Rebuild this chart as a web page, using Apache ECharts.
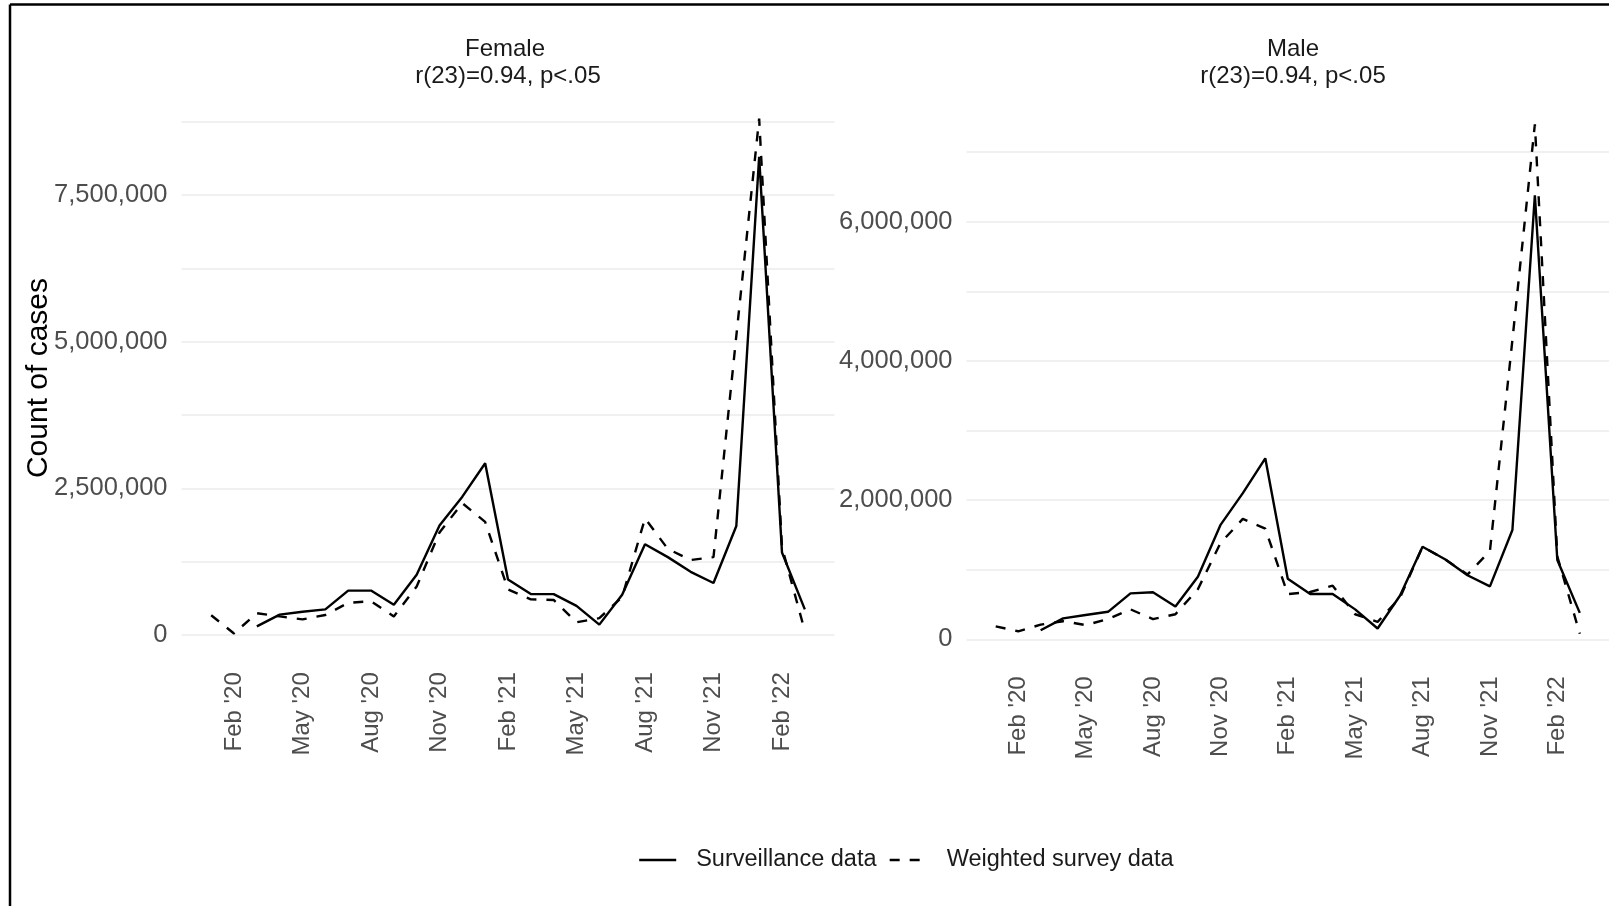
<!DOCTYPE html>
<html>
<head>
<meta charset="utf-8">
<script src="https://cdn.jsdelivr.net/npm/echarts@6/dist/echarts.min.js"></script>
<style>
html,body{margin:0;padding:0;background:#fff;}
#chart{width:1609px;height:906px;}
</style>
</head>
<body>
<div id="chart"></div>
<script>
// ---- data ----
const months = ["Jan '20","Feb '20","Mar '20","Apr '20","May '20","Jun '20","Jul '20","Aug '20","Sep '20","Oct '20","Nov '20","Dec '20",
  "Jan '21","Feb '21","Mar '21","Apr '21","May '21","Jun '21","Jul '21","Aug '21","Sep '21","Oct '21","Nov '21","Dec '21",
  "Jan '22","Feb '22","Mar '22"];
const tickMonths = ["Feb '20","May '20","Aug '20","Nov '20","Feb '21","May '21","Aug '21","Nov '21","Feb '22"];
const surveillanceStart = "Mar '20";
const surveyStart = "Jan '20";

const femaleSurveillance = [150000,350000,400000,440000,760000,760000,520000,1030000,1870000,2360000,2930000,
  950000,700000,700000,500000,180000,690000,1550000,1330000,1080000,890000,1860000,8150000,1410000,440000];
const femaleSurvey = [340000,30000,375000,320000,270000,345000,550000,580000,320000,830000,1750000,2250000,1930000,
  780000,610000,600000,220000,290000,650000,1990000,1470000,1280000,1330000,5100000,8800000,1500000,70000];

const maleSurveillance = [130000,300000,350000,395000,660000,675000,470000,900000,1640000,2100000,2600000,
  870000,650000,650000,430000,155000,630000,1330000,1150000,920000,760000,1570000,6380000,1140000,380000];
const maleSurvey = [185000,115000,210000,260000,205000,290000,430000,290000,360000,720000,1380000,1730000,1590000,
  650000,680000,770000,360000,250000,600000,1330000,1150000,930000,1270000,4300000,7400000,1190000,80000];

const femaleYTicks = [0,2500000,5000000,7500000];
const maleYTicks = [0,2000000,4000000,6000000];

// ---- build ----
const FONT = "'Liberation Sans', Arial, sans-serif";
function pairs(values, start){ const s = months.indexOf(start); return values.map((v,i)=>[s+i, v]); }
const tickIdx = tickMonths.map(m => months.indexOf(m));
const span = months.length - 1;
const xMin = -0.05*span, xMax = span + 0.05*span;

function xAxis(gi){
  return {
    type:'value', gridIndex:gi, min:xMin, max:xMax,
    axisLine:{show:false}, axisTick:{show:false}, splitLine:{show:false},
    axisLabel:{
      customValues: tickIdx, rotate:90, margin:37, fontSize:24, color:'#4D4D4D', fontFamily:FONT,
      formatter: v => months[Math.round(v)] || ''
    }
  };
}
function yAxis(gi, max, step, ticks){
  return {
    type:'value', gridIndex:gi, min:0, max:max, interval:step,
    axisLine:{show:false}, axisTick:{show:false},
    splitLine:{show:true, lineStyle:{color:'#EBEBEB', width:1.6}},
    axisLabel:{
      margin:14, fontSize:25.5, color:'#4D4D4D', fontFamily:FONT,
      formatter: v => ticks.indexOf(v) >= 0 ? v.toLocaleString('en-US') : ''
    }
  };
}
const solid = {color:'#000', width:2.4, type:'solid'};
const dashed = {color:'#000', width:2.4, type:[10,10]};
function line(name, data, gi, style){
  return {name, type:'line', xAxisIndex:gi, yAxisIndex:gi, data, symbol:'none', showSymbol:false,
    clip:false, lineStyle:style, itemStyle:{color:'#000'}, emphasis:{disabled:true}, silent:true};
}

const chart = echarts.init(document.getElementById('chart'), null, {renderer:'canvas'});
chart.setOption({
  animation:false,
  backgroundColor:'#fff',
  textStyle:{fontFamily:FONT},
  grid:[
    {left:181.5, top:121.6, width:653, height:513.6},
    {left:966.5, top:152.1, width:653, height:487.2}
  ],
  xAxis:[xAxis(0), xAxis(1)],
  yAxis:[yAxis(0, 8750000, 1250000, femaleYTicks), yAxis(1, 7000000, 1000000, maleYTicks)],
  legend:{
    data:['Surveillance data','Weighted survey data'],
    left:638, top:848, padding:0, itemWidth:37, itemHeight:14, itemGap:12, selectedMode:false,
    lineStyle:{width:2.4},
    itemStyle:{opacity:0},
    textStyle:{fontSize:23.5, color:'#1A1A1A', fontFamily:FONT, padding:[0,0,0,15]}
  },
  series:[
    line('Surveillance data', pairs(femaleSurveillance, surveillanceStart), 0, solid),
    line('Weighted survey data', pairs(femaleSurvey, surveyStart), 0, dashed),
    line('Surveillance data', pairs(maleSurveillance, surveillanceStart), 1, solid),
    line('Weighted survey data', pairs(maleSurvey, surveyStart), 1, dashed)
  ],
  graphic:[
    {type:'line', shape:{x1:10, y1:4.5, x2:1609, y2:4.5}, style:{stroke:'#000', lineWidth:2.5}},
    {type:'line', shape:{x1:10, y1:4.5, x2:10, y2:906}, style:{stroke:'#000', lineWidth:2.5}},
    {type:'text', x:505, y:49.5, style:{text:'Female', align:'center', verticalAlign:'middle', fontSize:24, fontFamily:FONT, fill:'#1A1A1A'}},
    {type:'text', x:508, y:76, style:{text:'r(23)=0.94, p<.05', align:'center', verticalAlign:'middle', fontSize:24, fontFamily:FONT, fill:'#1A1A1A'}},
    {type:'text', x:1293, y:49.5, style:{text:'Male', align:'center', verticalAlign:'middle', fontSize:24, fontFamily:FONT, fill:'#1A1A1A'}},
    {type:'text', x:1293, y:76, style:{text:'r(23)=0.94, p<.05', align:'center', verticalAlign:'middle', fontSize:24, fontFamily:FONT, fill:'#1A1A1A'}},
    {type:'text', x:39, y:378, rotation:Math.PI/2, style:{text:'Count of cases', align:'center', verticalAlign:'middle', fontSize:30, fontFamily:FONT, fill:'#000'}}
  ]
});
</script>
</body>
</html>
